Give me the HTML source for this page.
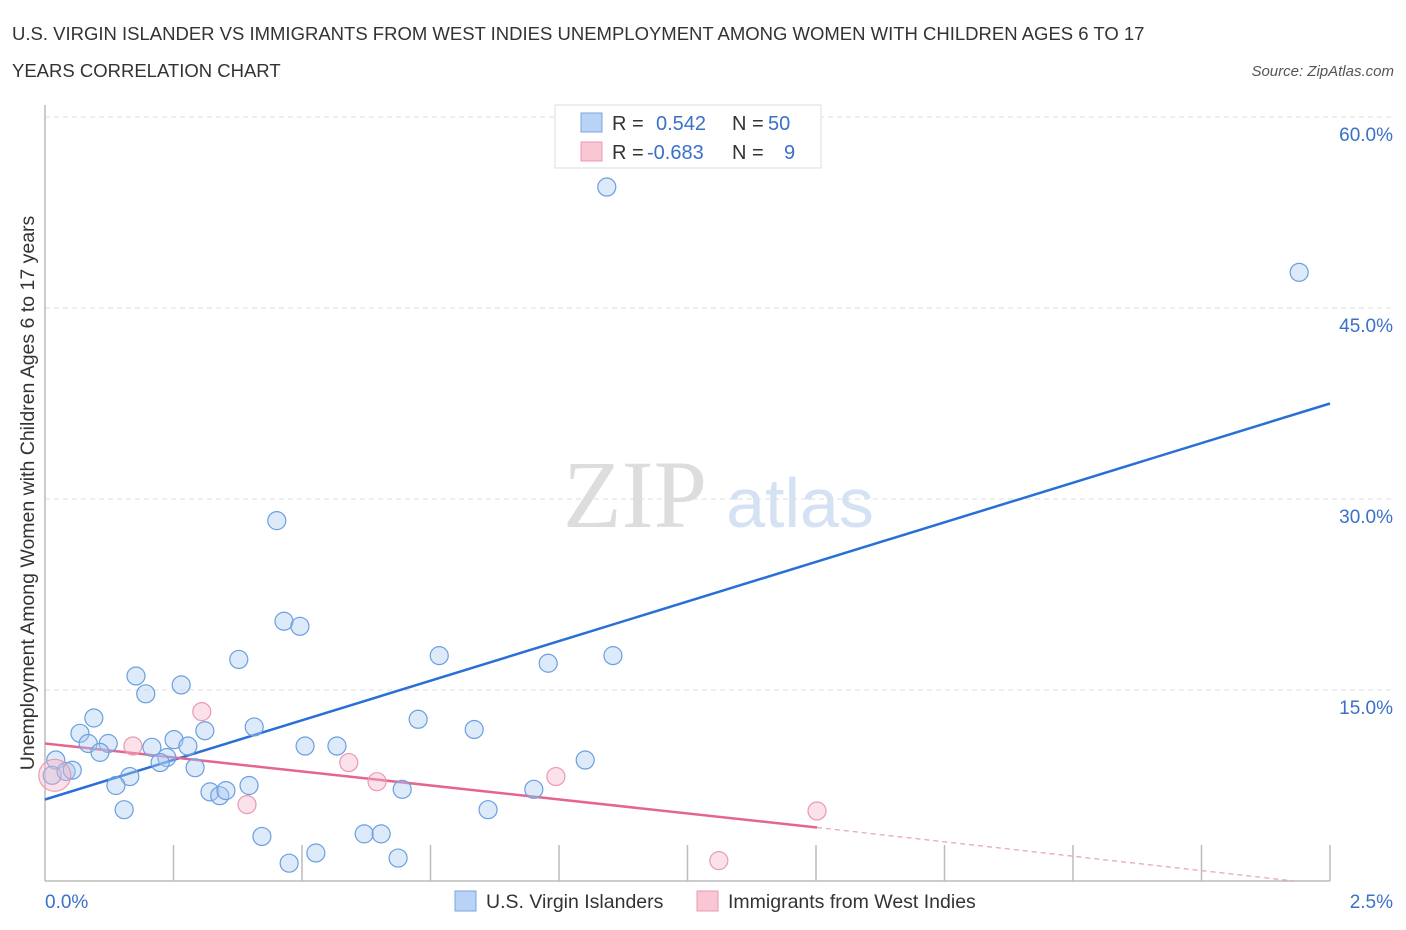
<!DOCTYPE html>
<html><head><meta charset="utf-8"><style>
body{margin:0;background:#fff;font-family:"Liberation Sans",sans-serif}
svg{display:block}
</style></head><body>
<svg id="chart" width="1406" height="930" xmlns="http://www.w3.org/2000/svg">
<text x="12" y="40" font-size="18.5" fill="#333">U.S. VIRGIN ISLANDER VS IMMIGRANTS FROM WEST INDIES UNEMPLOYMENT AMONG WOMEN WITH CHILDREN AGES 6 TO 17</text>
<text x="12" y="77" font-size="18.5" fill="#333">YEARS CORRELATION CHART</text>
<text x="1394" y="76" font-size="15" fill="#555" text-anchor="end" font-style="italic">Source: ZipAtlas.com</text>
<text x="635" y="527" font-size="96" fill="#ddd" text-anchor="middle" font-family="Liberation Serif">ZIP</text>
<text x="800" y="527" font-size="70" fill="#d4e2f4" text-anchor="middle">atlas</text>
<text transform="translate(34,493) rotate(-90)" font-size="19.5" fill="#333" text-anchor="middle">Unemployment Among Women with Children Ages 6 to 17 years</text>
<g id="grid"></g><g id="axes"></g><g id="lines"></g><g id="pts"></g>
<g>
<rect x="555" y="105" width="266" height="63" fill="#fff" stroke="#ddd"/>
<rect x="581" y="113" width="21" height="19" fill="#b8d3f5" stroke="#7aa6e0"/>
<rect x="581" y="142" width="21" height="19" fill="#f9c6d4" stroke="#eb98b0"/>
<text x="612" y="130" font-size="20" fill="#333">R =</text><text x="656" y="130" font-size="20" fill="#3a70c8">0.542</text>
<text x="732" y="130" font-size="20" fill="#333">N =</text><text x="768" y="130" font-size="20" fill="#3a70c8">50</text>
<text x="612" y="159" font-size="20" fill="#333">R =</text><text x="647" y="159" font-size="20" fill="#3a70c8">-0.683</text>
<text x="732" y="159" font-size="20" fill="#333">N =</text><text x="784" y="159" font-size="20" fill="#3a70c8">9</text>
</g>
<g>
<rect x="455" y="891" width="21" height="20" fill="#b8d3f5" stroke="#7aa6e0"/>
<text x="486" y="908" font-size="19.5" fill="#333">U.S. Virgin Islanders</text>
<rect x="697" y="891" width="21" height="20" fill="#f9c6d4" stroke="#eb98b0"/>
<text x="728" y="908" font-size="19.5" fill="#333">Immigrants from West Indies</text>
</g>
<text x="45" y="908" font-size="19" fill="#3a70c8">0.0%</text>
<text x="1393" y="908" font-size="19" fill="#3a70c8" text-anchor="end">2.5%</text>
</svg>
<script>
const yTicks=[15,30,45,60];
const yTickLabels=["15.0%","30.0%","45.0%","60.0%"];
const blueX=[1.093,2.440,0.451,0.465,0.496,0.377,0.767,0.979,1.105,0.177,0.196,0.265,0.095,0.311,0.407,0.726,0.835,0.068,0.084,0.123,0.208,0.251,0.278,0.107,0.237,0.224,0.292,0.021,0.014,0.041,0.053,0.165,0.138,0.397,0.321,0.340,0.352,0.506,0.568,0.695,1.051,0.951,0.154,0.862,0.422,0.621,0.654,0.527,0.475,0.687];
const blueY=[54.5,47.8,28.3,20.4,20.0,17.4,17.7,17.1,17.7,16.1,14.7,15.4,12.8,11.8,12.1,12.7,11.9,11.6,10.8,10.8,10.5,11.1,10.6,10.1,9.7,9.3,8.9,9.5,8.3,8.6,8.7,8.2,7.5,7.5,7.0,6.7,7.1,10.6,10.6,7.2,9.5,7.2,5.6,5.6,3.5,3.7,3.7,2.2,1.4,1.8];
const pinkX=[0.019,0.305,0.171,0.591,0.646,0.994,0.393,1.502,1.311];
const pinkY=[8.3,13.3,10.6,9.3,7.8,8.2,6.0,5.5,1.6];
const pinkR=[16,9,9,9,9,9,9,9,9];
const blueTrend=[[0,6.4],[2.5,37.5]];
const pinkTrend=[[0,10.8],[1.502,4.2]];
const pinkTrendDash=[[1.502,4.2],[2.43,0]];
const X=v=>45+v/2.5*1285, Y=v=>881-v/15*191;
const NS="http://www.w3.org/2000/svg";
function mk(tag,attrs,parent){const e=document.createElementNS(NS,tag);for(const k in attrs)e.setAttribute(k,attrs[k]);document.getElementById(parent).appendChild(e);return e;}
yTicks.forEach((t,i)=>{
 const l=mk('line',{x1:45,x2:1395,y1:Y(t),y2:Y(t),stroke:'#ddd','stroke-dasharray':'5,4'},'grid');
 
 
 const tx=mk('text',{x:1393,y:Y(t)+24,'font-size':19,fill:'#3a70c8','text-anchor':'end'},'grid');
 tx.textContent=yTickLabels[i];
 
 
});
let a=mk('line',{x1:45,x2:45,y1:105,y2:881,stroke:'#bbb','stroke-width':1.5},'axes');


a=mk('line',{x1:45,x2:1330,y1:881,y2:881,stroke:'#bbb','stroke-width':1.5},'axes');


for(let i=1;i<=10;i++){const t=mk('line',{x1:X(i*0.25),x2:X(i*0.25),y1:845,y2:881,stroke:'#bbb','stroke-width':1.5},'axes');
 
 }
function tl(p,c,name,dash,w){const l=mk('line',{x1:X(p[0][0]),y1:Y(p[0][1]),x2:X(p[1][0]),y2:Y(p[1][1]),stroke:c,'stroke-width':w},'lines');if(dash)l.setAttribute('stroke-dasharray',dash);
 
 }
tl(blueTrend,'#2a6fd6','blue-trend-line',null,2.5);
tl(pinkTrend,'#e4668f','pink-trend-line',null,2.5);
tl(pinkTrendDash,'#e4a0b8','pink-trend-extension','5,4',1.2);
blueX.forEach((x,i)=>{const c=mk('circle',{cx:X(x),cy:Y(blueY[i]),r:9,fill:'rgba(170,202,240,0.4)',stroke:'#6a9fe0','stroke-width':1.2},'pts');
 
 });
pinkX.forEach((x,i)=>{const c=mk('circle',{cx:X(x),cy:Y(pinkY[i]),r:pinkR[i],fill:'rgba(245,180,200,0.4)',stroke:'#eb98b0','stroke-width':1.2},'pts');
 
 });
</script>
</body></html>
